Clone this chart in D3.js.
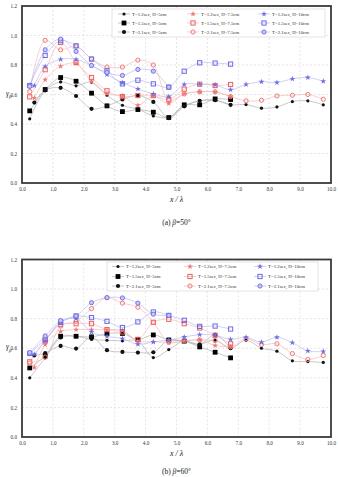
<!DOCTYPE html>
<html lang="en">
<head>
<meta charset="UTF-8">
<title>Run-up ratio vs x/lambda</title>
<script src="https://d3js.org/d3.v7.min.js"></script>
<style>
  body { margin: 0; padding: 0; background: #ffffff; }
  svg { display: block; font-family: "Liberation Serif", "DejaVu Serif", serif; }
</style>
</head>
<body>
<div id="chart"></div>
<script>
// ---- data ----
const xTicks = [0, 1, 2, 3, 4, 5, 6, 7, 8, 9, 10];
const yTicks = [0, 0.2, 0.4, 0.6, 0.8, 1.0, 1.2];
const legendLabels = [
  ["T=1.2sec, H=5cm", "T=1.5sec, H=5cm", "T=2.1sec, H=5cm"],
  ["T=1.2sec, H=7.5cm", "T=1.5sec, H=7.5cm", "T=2.1sec, H=7.5cm"],
  ["T=1.2sec, H=10cm", "T=1.5sec, H=10cm", "T=2.1sec, H=10cm"]
];

// beta = 50
const a_K1 = [[0.25,0.435],[0.75,0.625],[1.25,0.685],[1.75,0.659],[2.25,0.684],[2.75,0.595],[3.25,0.527],[3.75,0.50],[4.25,0.455],[4.75,0.444],[5.25,0.521],[5.75,0.557],[6.25,0.561],[6.75,0.53],[7.25,0.532],[7.75,0.507],[8.25,0.516],[8.75,0.552],[9.25,0.557],[9.75,0.53]];
const a_K2 = [[0.25,0.489],[0.75,0.634],[1.25,0.715],[1.75,0.69],[2.25,0.609],[2.75,0.523],[3.25,0.484],[3.75,0.498],[4.25,0.48],[4.75,0.444],[5.25,0.53],[5.75,0.53],[6.25,0.57],[6.75,0.566]];
const a_K3 = [[0.4,0.545],[0.75,0.63],[1.25,0.645],[1.75,0.59],[2.25,0.503],[2.75,0.523],[3.25,0.566],[3.75,0.593],[4.25,0.55],[4.75,0.44],[5.25,0.52],[5.75,0.557],[6.25,0.561],[6.75,0.53]];
const a_R1 = [[0.4,0.577],[0.75,0.70],[1.25,0.792],[1.75,0.81],[2.25,0.688],[2.75,0.605],[3.25,0.59],[3.75,0.527],[4.25,0.59],[4.75,0.539],[5.25,0.604],[5.75,0.618],[6.25,0.618],[6.75,0.586]];
const a_R2 = [[0.25,0.584],[0.75,0.768],[1.25,0.953],[1.75,0.817],[2.25,0.715],[2.75,0.625],[3.25,0.586],[3.75,0.593],[4.25,0.593],[4.75,0.566],[5.25,0.636],[5.75,0.67],[6.25,0.661],[6.75,0.668]];
const a_R3 = [[0.25,0.62],[0.75,0.967],[1.25,0.903],[1.75,0.928],[2.25,0.842],[2.75,0.786],[3.25,0.786],[3.75,0.833],[4.25,0.80],[4.75,0.56],[5.25,0.604],[5.75,0.618],[6.25,0.618],[6.75,0.586],[7.25,0.557],[7.75,0.561],[8.25,0.59],[8.75,0.595],[9.25,0.60],[9.75,0.568]];
const a_B1 = [[0.4,0.66],[0.75,0.79],[1.25,0.838],[1.75,0.838],[2.25,0.797],[2.75,0.736],[3.25,0.68],[3.75,0.638],[4.25,0.604],[4.75,0.586],[5.25,0.668],[5.75,0.67],[6.25,0.665],[6.75,0.632],[7.25,0.668],[7.75,0.686],[8.25,0.681],[8.75,0.706],[9.25,0.715],[9.75,0.69]];
const a_B2 = [[0.25,0.661],[0.75,0.865],[1.25,0.965],[1.75,0.93],[2.25,0.84],[2.75,0.761],[3.25,0.672],[3.75,0.697],[4.25,0.672],[4.75,0.65],[5.25,0.758],[5.75,0.815],[6.25,0.813],[6.75,0.806]];
const a_B3 = [[0.25,0.655],[0.75,0.903],[1.25,0.976],[1.75,0.892],[2.25,0.797],[2.75,0.75],[3.25,0.729],[3.75,0.77],[4.25,0.758],[4.75,0.65]];

// beta = 60
const b_K1 = [[0.25,0.40],[0.75,0.535],[1.25,0.67],[1.75,0.681],[2.25,0.659],[2.75,0.654],[3.25,0.65],[3.75,0.65],[4.25,0.537],[4.75,0.591],[5.25,0.648],[5.75,0.627],[6.25,0.655],[6.75,0.60],[7.25,0.654],[7.75,0.60],[8.25,0.58],[8.75,0.515],[9.25,0.51],[9.75,0.504]];
const b_K2 = [[0.25,0.467],[0.75,0.548],[1.25,0.681],[1.75,0.681],[2.25,0.677],[2.75,0.699],[3.25,0.70],[3.75,0.659],[4.25,0.69],[4.75,0.656],[5.25,0.648],[5.75,0.609],[6.25,0.573],[6.75,0.535]];
const b_K3 = [[0.4,0.551],[0.75,0.568],[1.25,0.616],[1.75,0.598],[2.25,0.677],[2.75,0.587],[3.25,0.575],[3.75,0.571],[4.25,0.573],[4.75,0.656],[5.25,0.648],[5.75,0.627],[6.25,0.69],[6.75,0.60]];
const b_R1 = [[0.4,0.47],[0.75,0.625],[1.25,0.713],[1.75,0.726],[2.25,0.726],[2.75,0.726],[3.25,0.72],[3.75,0.65],[4.25,0.643],[4.75,0.64],[5.25,0.65],[5.75,0.656],[6.25,0.618],[6.75,0.61]];
const b_R2 = [[0.25,0.508],[0.75,0.65],[1.25,0.76],[1.75,0.766],[2.25,0.766],[2.75,0.726],[3.25,0.71],[3.75,0.66],[4.25,0.775],[4.75,0.796],[5.25,0.766],[5.75,0.737],[6.25,0.688],[6.75,0.63]];
const b_R3 = [[0.25,0.50],[0.75,0.54],[1.25,0.75],[1.75,0.782],[2.25,0.868],[2.75,0.942],[3.25,0.905],[3.75,0.877],[4.25,0.775],[4.75,0.64],[5.25,0.65],[5.75,0.656],[6.25,0.652],[6.75,0.61],[7.25,0.665],[7.75,0.625],[8.25,0.63],[8.75,0.564],[9.25,0.524],[9.75,0.551]];
const b_B1 = [[0.4,0.56],[0.75,0.65],[1.25,0.775],[1.75,0.80],[2.25,0.71],[2.75,0.68],[3.25,0.665],[3.75,0.627],[4.25,0.643],[4.75,0.656],[5.25,0.676],[5.75,0.692],[6.25,0.688],[6.75,0.66],[7.25,0.674],[7.75,0.641],[8.25,0.674],[8.75,0.638],[9.25,0.582],[9.75,0.578]];
const b_B2 = [[0.25,0.565],[0.75,0.66],[1.25,0.775],[1.75,0.818],[2.25,0.807],[2.75,0.782],[3.25,0.74],[3.75,0.778],[4.25,0.845],[4.75,0.822],[5.25,0.789],[5.75,0.748],[6.25,0.75],[6.75,0.73]];
const b_B3 = [[0.25,0.571],[0.75,0.683],[1.25,0.787],[1.75,0.818],[2.25,0.908],[2.75,0.942],[3.25,0.94],[3.75,0.905],[4.25,0.83],[4.75,0.822]];

// marker style per legend slot: shape, colour, line colour
const styles = [
  [{ m: "dot", c: "#111", l: "#b0b0b0" }, { m: "square", c: "#000", l: "#b0b0b0", fill: true }, { m: "circle", c: "#111", l: "#b0b0b0", fill: true }],
  [{ m: "star", c: "#f07878", l: "#f4bcbc" }, { m: "square", c: "#ee6060", l: "#f4bcbc" }, { m: "circle", c: "#f07878", l: "#f4bcbc" }],
  [{ m: "star", c: "#6f6fe6", l: "#bcbcf0" }, { m: "square", c: "#6a6ae0", l: "#bcbcf0" }, { m: "circle", c: "#7474e6", l: "#bcbcf0", inner: "#c8c8f4" }]
];

const W = 338, H = 477;
const svg = d3.select("#chart").append("svg").attr("width", W).attr("height", H);

function marker(g, st, x, y) {
  if (st.m === "dot") {
    g.append("circle").attr("cx", x).attr("cy", y).attr("r", 1.6).attr("fill", st.c);
  } else if (st.m === "square") {
    if (st.fill) {
      g.append("rect").attr("x", x - 2.4).attr("y", y - 2.4).attr("width", 4.8).attr("height", 4.8).attr("fill", st.c);
    } else {
      g.append("rect").attr("x", x - 2.1).attr("y", y - 2.1).attr("width", 4.2).attr("height", 4.2)
        .attr("fill", "none").attr("stroke", st.c).attr("stroke-width", 1);
    }
  } else if (st.m === "circle") {
    if (st.fill) {
      g.append("circle").attr("cx", x).attr("cy", y).attr("r", 2.1).attr("fill", st.c);
    } else {
      g.append("circle").attr("cx", x).attr("cy", y).attr("r", 2.1)
        .attr("fill", st.inner || "none").attr("stroke", st.c).attr("stroke-width", 1);
    }
  } else if (st.m === "star") {
    g.append("path").attr("d", d3.symbol(d3.symbolStar, 11)())
      .attr("transform", `translate(${x},${y})`).attr("fill", st.c);
  }
}

function drawPanel(cfg) {
  const x = d3.scaleLinear().domain([0, 10]).range([cfg.left, cfg.right]);
  const y = d3.scaleLinear().domain([0, 1.2]).range([cfg.bottom, cfg.top]);
  const g = svg.append("g");

  // grid
  g.append("g").selectAll("line").data(xTicks.slice(1, -1)).join("line")
    .attr("x1", d => x(d)).attr("x2", d => x(d)).attr("y1", cfg.top).attr("y2", cfg.bottom)
    .attr("stroke", "#d4d4d4").attr("stroke-width", 0.6).attr("stroke-dasharray", "2,2");
  g.append("g").selectAll("line").data(yTicks.slice(1, -1)).join("line")
    .attr("y1", d => y(d)).attr("y2", d => y(d)).attr("x1", cfg.left).attr("x2", cfg.right)
    .attr("stroke", "#d4d4d4").attr("stroke-width", 0.6).attr("stroke-dasharray", "2,2");

  // axes (labels only, the frame draws the lines)
  const xAxis = d3.axisBottom(x).tickValues(xTicks).tickFormat(d3.format(".1f")).tickSize(0).tickPadding(4);
  const yAxis = d3.axisLeft(y).tickValues(yTicks).tickFormat(d3.format(".1f")).tickSize(0).tickPadding(5);
  const gx = g.append("g").attr("transform", `translate(0,${cfg.bottom})`).call(xAxis);
  const gy = g.append("g").attr("transform", `translate(${cfg.left},0)`).call(yAxis);
  [gx, gy].forEach(a => {
    a.select(".domain").remove();
    a.selectAll("text").attr("font-family", "Liberation Serif, serif").attr("font-size", 5.2).attr("fill", "#333");
  });

  // series lines and markers
  const line = d3.line().x(d => x(d[0])).y(d => y(d[1])).curve(d3.curveCatmullRom.alpha(0.5));
  cfg.series.forEach((col, ci) => col.forEach((data, ri) => {
    const st = styles[ci][ri];
    g.append("path").attr("d", line(data)).attr("fill", "none").attr("stroke", st.l).attr("stroke-width", 0.7);
  }));
  cfg.series.forEach((col, ci) => col.forEach((data, ri) => {
    const st = styles[ci][ri];
    const mg = g.append("g");
    data.forEach(d => marker(mg, st, x(d[0]), y(d[1])));
  }));

  // frame
  g.append("rect").attr("x", cfg.left).attr("y", cfg.top)
    .attr("width", cfg.right - cfg.left).attr("height", cfg.bottom - cfg.top)
    .attr("fill", "none").attr("stroke", "#3a3a3a").attr("stroke-width", 1.8);

  // legend
  const L = cfg.legend;
  g.append("rect").attr("x", L.x).attr("y", L.y).attr("width", L.w).attr("height", L.h)
    .attr("fill", "#fff").attr("stroke", "#cfcfcf").attr("stroke-width", 0.6);
  legendLabels.forEach((col, ci) => col.forEach((lab, ri) => {
    const st = styles[ci][ri];
    const mx = L.x + L.mx[ci], my = L.y + L.rows[ri];
    g.append("line").attr("x1", mx - 6).attr("x2", mx + 6).attr("y1", my).attr("y2", my)
      .attr("stroke", st.l).attr("stroke-width", 0.7);
    marker(g, st, mx, my);
    g.append("text").attr("x", mx + 8).attr("y", my + 1.7).text(lab)
      .attr("font-size", 4.8).attr("fill", "#333");
  }));

  // y title
  const yt = g.append("text").attr("x", 6).attr("y", y(0.6) + 1).attr("font-size", 7.5)
    .attr("font-style", "italic").attr("fill", "#222");
  yt.append("tspan").text("γ");
  yt.append("tspan").text("β").attr("font-size", 5).attr("dy", 2.5);

  // x title
  g.append("text").attr("x", x(5)).attr("y", cfg.bottom + 19).attr("text-anchor", "middle")
    .attr("font-size", 8).attr("font-style", "italic").attr("fill", "#222").text("x / λ");

  // caption
  const cap = g.append("text").attr("x", x(5)).attr("y", cfg.capY).attr("text-anchor", "middle")
    .attr("font-size", 7.5).attr("fill", "#222");
  cap.append("tspan").text(cfg.cap[0]);
  cap.append("tspan").text("β").attr("font-style", "italic");
  cap.append("tspan").text(cfg.cap[1]);
}

drawPanel({
  left: 22, right: 331, top: 6, bottom: 183, capY: 225,
  series: [[a_K1, a_K2, a_K3], [a_R1, a_R2, a_R3], [a_B1, a_B2, a_B3]],
  legend: { x: 112, y: 9, w: 213, h: 28, mx: [12, 81, 152], rows: [5, 14, 23] },
  cap: ["(a) ", "=50°"]
});

drawPanel({
  left: 22, right: 331, top: 259.5, bottom: 437, capY: 474,
  series: [[b_K1, b_K2, b_K3], [b_R1, b_R2, b_R3], [b_B1, b_B2, b_B3]],
  legend: { x: 107, y: 262, w: 211, h: 29, mx: [11, 83, 153], rows: [4.5, 14.5, 24] },
  cap: ["(b) ", "=60°"]
});
</script>
</body>
</html>
